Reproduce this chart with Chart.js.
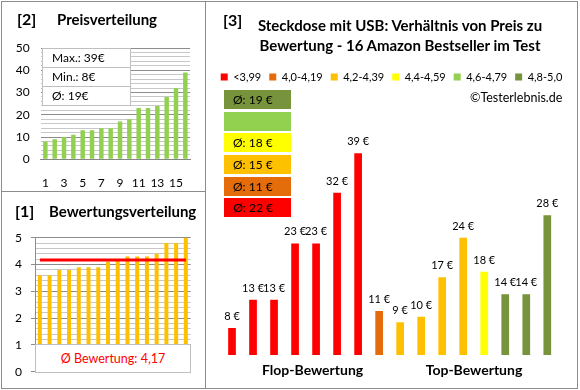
<!DOCTYPE html>
<html>
<head>
<meta charset="utf-8">
<script src="https://cdn.jsdelivr.net/npm/chart.js@4.4.0/dist/chart.umd.min.js"></script>
<style>
  body { margin: 0; background: #fff; font-family: Lato, sans-serif; color: #000; }
  #wrap { position: relative; width: 580px; height: 390px; overflow: hidden; }
  canvas { position: absolute; }
  .frame { position: absolute; border: 1px solid #8c8c8c; box-sizing: border-box; }
  .t { position: absolute; white-space: nowrap; line-height: 20px; }
  .b { font-weight: bold; }
  .stat { position: absolute; left: 42px; top: 48px; width: 89px; background: #fff; border: 1px solid #bfbfbf; box-sizing: border-box; }
  .stat div { height: 18px; line-height: 18px; padding-left: 9px; font-size: 12px; border-top: 1px solid #bfbfbf; }
  .stat div:first-child { border-top: none; }
  .avgbox { position: absolute; left: 35px; top: 344px; width: 156px; height: 29px; background: #fff; border: 1px solid #bfbfbf; box-sizing: border-box; color: #ff0000; font-size: 12.5px; line-height: 27px; text-align: center; }
  .grp { position: absolute; left: 224px; width: 67px; height: 19px; line-height: 19px; padding-left: 9px; box-sizing: border-box; font-size: 12px; }
</style>
</head>
<body>
<div id="wrap">
  <canvas id="c2" width="205" height="191" style="left:0;top:0"></canvas>
  <canvas id="c1" width="205" height="197" style="left:0;top:191px"></canvas>
  <canvas id="c3" width="371" height="386" style="left:206px;top:2px"></canvas>

  <div class="frame" style="left:1px;top:1px;width:205px;height:191px"></div>
  <div class="frame" style="left:1px;top:191px;width:205px;height:198px"></div>
  <div class="frame" style="left:205px;top:1px;width:373px;height:388px"></div>

  <div class="t b" style="left:17px;top:9px;font-size:16px">[2]</div>
  <div class="t b" style="left:57px;top:9px;font-size:15px">Preisverteilung</div>
  <div class="stat" id="stat"></div>

  <div class="t b" style="left:15px;top:201px;font-size:16px">[1]</div>
  <div class="t b" style="left:49px;top:201px;font-size:15px">Bewertungsverteilung</div>
  <div class="avgbox" id="avgbox"></div>

  <div class="t b" style="left:223px;top:10px;font-size:16px">[3]</div>
  <div class="t b" style="left:205px;width:390px;text-align:center;top:15px;font-size:15px">Steckdose mit USB: Verhältnis von Preis zu</div>
  <div class="t b" style="left:205px;width:390px;text-align:center;top:35px;font-size:15px">Bewertung - 16 Amazon Bestseller im Test</div>
  <div class="t" style="left:470px;top:88px;font-size:12.5px">©Testerlebnis.de</div>
  <div id="groups"></div>
  <div class="t b" style="left:262px;width:100px;text-align:center;top:360px;font-size:14px">Flop-Bewertung</div>
  <div class="t b" style="left:424px;width:100px;text-align:center;top:360px;font-size:14px">Top-Bewertung</div>
</div>

<script>
Chart.defaults.font.family = 'Lato';
Chart.defaults.color = '#000';

// [2] Preisverteilung
const ranks = ['1', '2', '3', '4', '5', '6', '7', '8', '9', '10', '11', '12', '13', '14', '15', '16'];
const pricesSorted = [8, 9, 10, 11, 13, 13, 14, 14, 17, 18, 23, 23, 24, 28, 32, 39];

// [1] Bewertungsverteilung
const ratingsSorted = [3.6, 3.6, 3.8, 3.8, 3.9, 3.9, 3.9, 4.1, 4.2, 4.3, 4.3, 4.3, 4.4, 4.8, 4.8, 5.0];
const ratingAvg = 4.17;

// [3] Preis vs. Bewertung
const productPrices = [8, 13, 13, 23, 23, 32, 39, 11, 9, 10, 17, 24, 18, 14, 14, 28];
const productGroup = [0, 0, 0, 0, 0, 0, 0, 1, 2, 2, 2, 2, 3, 5, 5, 5];
const groupLabels = ['<3,99', '4,0-4,19', '4,2-4,39', '4,4-4,59', '4,6-4,79', '4,8-5,0'];
const groupColors = ['#ff0000', '#e46c0a', '#ffc000', '#ffff00', '#92d050', '#77933c'];

const isMajor = (v, step) => Math.abs(v / step - Math.round(v / step)) < 1e-6;

// stat box
const maxP = Math.max(...pricesSorted), minP = Math.min(...pricesSorted);
const avgP = Math.round(pricesSorted.reduce((a, b) => a + b, 0) / pricesSorted.length);
document.getElementById('stat').innerHTML =
  `<div>Max.: ${maxP}€</div><div>Min.: ${minP}€</div><div>Ø: ${avgP}€</div>`;
document.getElementById('avgbox').textContent = 'Ø Bewertung: ' + ratingAvg.toFixed(2).replace('.', ',');

// group average boxes, top = best rating group
const groupTops = [198, 177, 155, 133, 112, 90];
let gHtml = '';
groupLabels.forEach((lab, g) => {
  const vals = productPrices.filter((p, i) => productGroup[i] === g);
  const txt = vals.length ? 'Ø: ' + Math.round(vals.reduce((a, b) => a + b, 0) / vals.length) + ' €' : '';
  gHtml += `<div class="grp" style="top:${groupTops[g]}px;background:${groupColors[g]}">${txt}</div>`;
});
document.getElementById('groups').innerHTML = gHtml;

new Chart(document.getElementById('c2'), {
  type: 'bar',
  data: {
    labels: ranks,
    datasets: [{ data: pricesSorted, backgroundColor: '#92d050', barPercentage: 0.48, categoryPercentage: 1 }]
  },
  options: {
    responsive: false,
    animation: false,
    layout: { padding: { left: 0, right: 15, top: 48, bottom: 0 } },
    plugins: { legend: { display: false }, tooltip: { enabled: false } },
    scales: {
      x: {
        grid: { display: false },
        border: { color: '#868686' },
        ticks: { autoSkip: false, maxRotation: 0, padding: 9, font: { size: 12 },
          callback: (v, i) => i % 2 === 0 ? ranks[i] : '' },
        afterFit: s => { s.height = 31.7; }
      },
      y: {
        min: 0, max: 50,
        ticks: { stepSize: 2, autoSkip: false, padding: 11, font: { size: 12 },
          callback: v => isMajor(v, 10) ? v : '' },
        grid: { drawTicks: false, color: c => isMajor(c.tick.value, 10) ? '#8c8c8c' : '#c8c8c8' },
        border: { display: false },
        afterFit: s => { s.width = 40.7; }
      }
    }
  }
});

new Chart(document.getElementById('c1'), {
  type: 'bar',
  data: {
    labels: ranks,
    datasets: [
      { type: 'line', data: ranks.map(() => ratingAvg), borderColor: '#ff0000', borderWidth: 3, pointRadius: 0, order: 0 },
      { type: 'bar', data: ratingsSorted, backgroundColor: '#ffc000', barPercentage: 0.41, categoryPercentage: 1, order: 1 }
    ]
  },
  options: {
    responsive: false,
    animation: false,
    layout: { padding: { left: 0, right: 14.3, top: 46.7, bottom: 15.3 } },
    plugins: { legend: { display: false }, tooltip: { enabled: false } },
    scales: {
      x: { display: false },
      y: {
        min: 0, max: 5,
        ticks: { stepSize: 0.2, autoSkip: false, padding: 9, font: { size: 12 },
          callback: v => isMajor(v, 1) ? Math.round(v) : '' },
        grid: {
          tickLength: 4,
          color: c => isMajor(c.tick.value, 1) ? '#8c8c8c' : '#c8c8c8',
          tickColor: c => isMajor(c.tick.value, 1) ? '#8c8c8c' : 'rgba(0,0,0,0)'
        },
        border: { display: true, color: '#8c8c8c' },
        afterFit: s => { s.width = 35; }
      }
    }
  }
});

const priceLabels = {
  id: 'priceLabels',
  afterDatasetsDraw(chart) {
    const ctx = chart.ctx;
    ctx.save();
    ctx.font = '11px Lato';
    ctx.fillStyle = '#000';
    ctx.textAlign = 'center';
    ctx.textBaseline = 'alphabetic';
    chart.data.datasets.forEach((ds, di) => {
      chart.getDatasetMeta(di).data.forEach((bar, i) => {
        if (ds.data[i] == null) return;
        ctx.fillText(ds.data[i] + ' €', bar.x, bar.y - 8);
      });
    });
    ctx.restore();
  }
};

// hidden side axes keep the plot narrower than the legend row
const hiddenAxis = (pos, w) => ({
  type: 'linear', position: pos, display: true,
  grid: { display: false }, border: { display: false }, ticks: { display: false },
  afterFit: s => { s.width = w; }
});

new Chart(document.getElementById('c3'), {
  type: 'bar',
  data: {
    labels: ranks,
    datasets: groupLabels.map((lab, g) => ({
      label: lab,
      data: productPrices.map((p, i) => productGroup[i] === g ? p : null),
      backgroundColor: groupColors[g],
      barPercentage: 0.366,
      categoryPercentage: 1,
      clip: 0
    }))
  },
  options: {
    responsive: false,
    animation: false,
    layout: { padding: { left: 0, right: 0, top: 61.5, bottom: 33 } },
    plugins: {
      legend: { position: 'top', labels: { boxWidth: 7, boxHeight: 7, padding: 8, font: { size: 11 }, color: '#000' } },
      tooltip: { enabled: false }
    },
    scales: {
      x: { stacked: true, display: false },
      y: Object.assign(hiddenAxis('left', 15.5), { stacked: true, min: 3.2, max: 49.8 }),
      yR: hiddenAxis('right', 19.2)
    }
  },
  plugins: [priceLabels]
});
</script>
</body>
</html>
